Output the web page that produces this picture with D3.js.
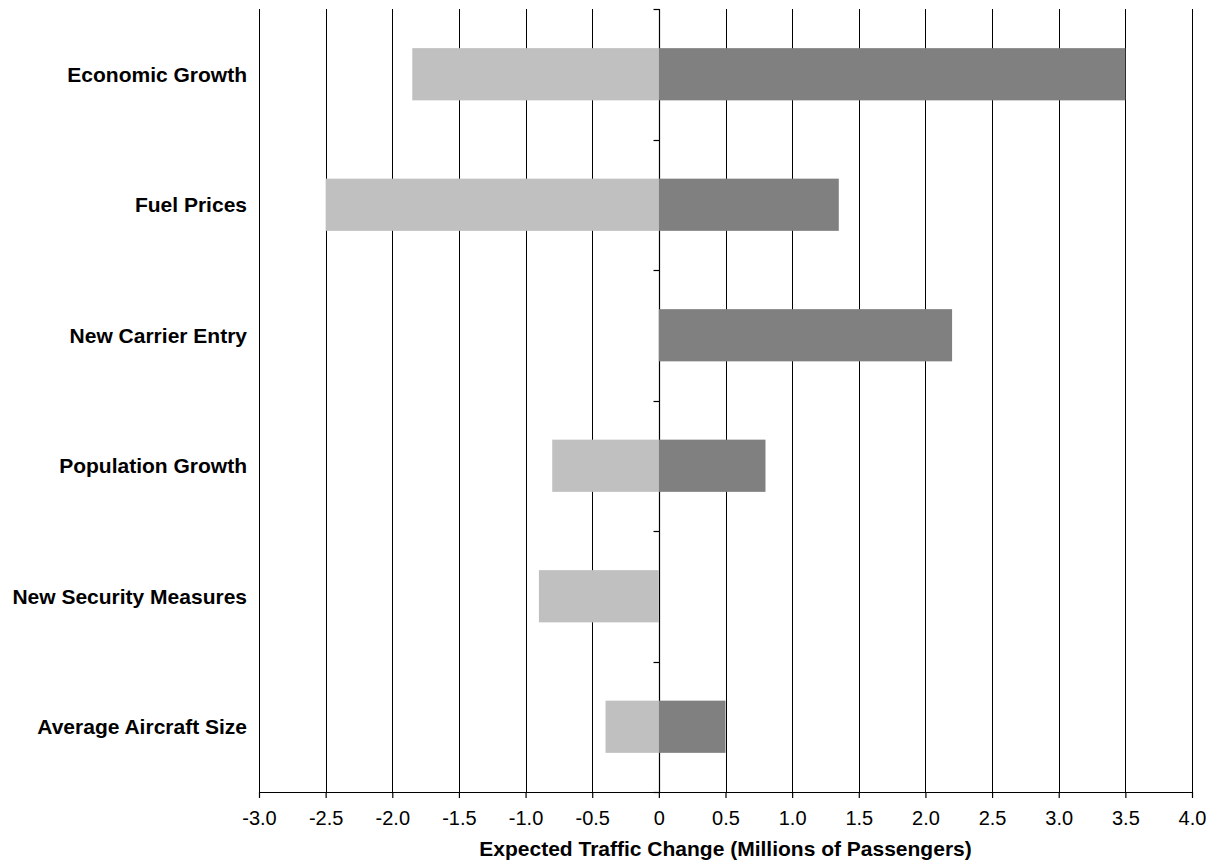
<!DOCTYPE html>
<html>
<head>
<meta charset="utf-8">
<script src="https://cdn.jsdelivr.net/npm/d3@7"></script>
<style>
  body { margin: 0; background: #fff; }
  svg { display: block; }
  text { font-family: "Liberation Sans", Arial, sans-serif; fill: #000; }
</style>
</head>
<body>
<svg id="chart" width="1215" height="862"></svg>
<script>
const categories = ["Economic Growth", "Fuel Prices", "New Carrier Entry", "Population Growth", "New Security Measures", "Average Aircraft Size"];
const negativeValues = [-1.85, -2.5, 0, -0.8, -0.9, -0.4];
const positiveValues = [3.5, 1.35, 2.2, 0.8, 0, 0.5];
const xTickValues = [-3, -2.5, -2, -1.5, -1, -0.5, 0, 0.5, 1, 1.5, 2, 2.5, 3, 3.5, 4];
const xTickLabels = ["-3.0", "-2.5", "-2.0", "-1.5", "-1.0", "-0.5", "0", "0.5", "1.0", "1.5", "2.0", "2.5", "3.0", "3.5", "4.0"];
const axisTitle = "Expected Traffic Change (Millions of Passengers)";

const svg = d3.select("#chart");
const mLeft = 259, mRight = 1192, mTop = 9, mBottom = 792;

const x = d3.scaleLinear().domain([-3, 4]).range([mLeft, mRight]);
const y = d3.scaleBand().domain(categories).range([mTop, mBottom]).paddingInner(0.6).paddingOuter(0.3);
const yBands = d3.scaleBand().domain(categories).range([mTop, mBottom]);

// vertical gridlines
svg.append("g").selectAll("line").data(xTickValues.filter(v => v !== 0)).join("line")
  .attr("x1", d => Math.round(x(d)) + 0.5).attr("x2", d => Math.round(x(d)) + 0.5)
  .attr("y1", mTop).attr("y2", mBottom)
  .attr("stroke", "#000").attr("stroke-width", 1);

// zero axis line
const zx = Math.round(x(0)) + 0.5;
svg.append("line").attr("x1", zx).attr("x2", zx).attr("y1", mTop).attr("y2", mBottom)
  .attr("stroke", "#000").attr("stroke-width", 1.2);

// y ticks at band boundaries (left side of zero line)
const bounds = categories.map(c => yBands(c)).concat([mBottom]);
svg.append("g").selectAll("line").data(bounds).join("line")
  .attr("x1", zx - 6).attr("x2", zx)
  .attr("y1", d => Math.round(d) + 0.5).attr("y2", d => Math.round(d) + 0.5)
  .attr("stroke", "#000").attr("stroke-width", 1.2);

// bars
const bars = svg.append("g");
bars.selectAll("rect.neg").data(categories).join("rect").attr("class", "neg")
  .attr("x", (d, i) => x(negativeValues[i]))
  .attr("width", (d, i) => x(0) - x(negativeValues[i]))
  .attr("y", d => y(d)).attr("height", y.bandwidth())
  .attr("fill", "#c0c0c0");
bars.selectAll("rect.pos").data(categories).join("rect").attr("class", "pos")
  .attr("x", x(0))
  .attr("width", (d, i) => x(positiveValues[i]) - x(0))
  .attr("y", d => y(d)).attr("height", y.bandwidth())
  .attr("fill", "#808080");

// x axis
const xAxis = d3.axisBottom(x).tickValues(xTickValues)
  .tickFormat((d, i) => xTickLabels[i]).tickSize(6).tickPadding(13);
const gx = svg.append("g").attr("transform", `translate(0,${mBottom})`).call(xAxis);
gx.select(".domain").attr("stroke", "#000").attr("stroke-width", 1.2).attr("d", `M${mLeft},0.5H${mRight}`);
gx.selectAll(".tick line").attr("stroke", "#000").attr("stroke-width", 1.2);
gx.selectAll(".tick text").style("font-size", "20px").attr("fill", "#000")
  .style("font-family", '"Liberation Sans", Arial, sans-serif');

// category labels
svg.append("g").selectAll("text").data(categories).join("text")
  .attr("x", 247).attr("y", d => yBands(d) + yBands.bandwidth() / 2)
  .attr("dy", "0.35em").attr("text-anchor", "end")
  .style("font-size", "21px").style("font-weight", "bold")
  .text(d => d);

// axis title
svg.append("text").attr("x", (mLeft + mRight) / 2).attr("y", 856)
  .attr("text-anchor", "middle").style("font-size", "21px").style("font-weight", "bold")
  .text(axisTitle);
</script>
</body>
</html>
